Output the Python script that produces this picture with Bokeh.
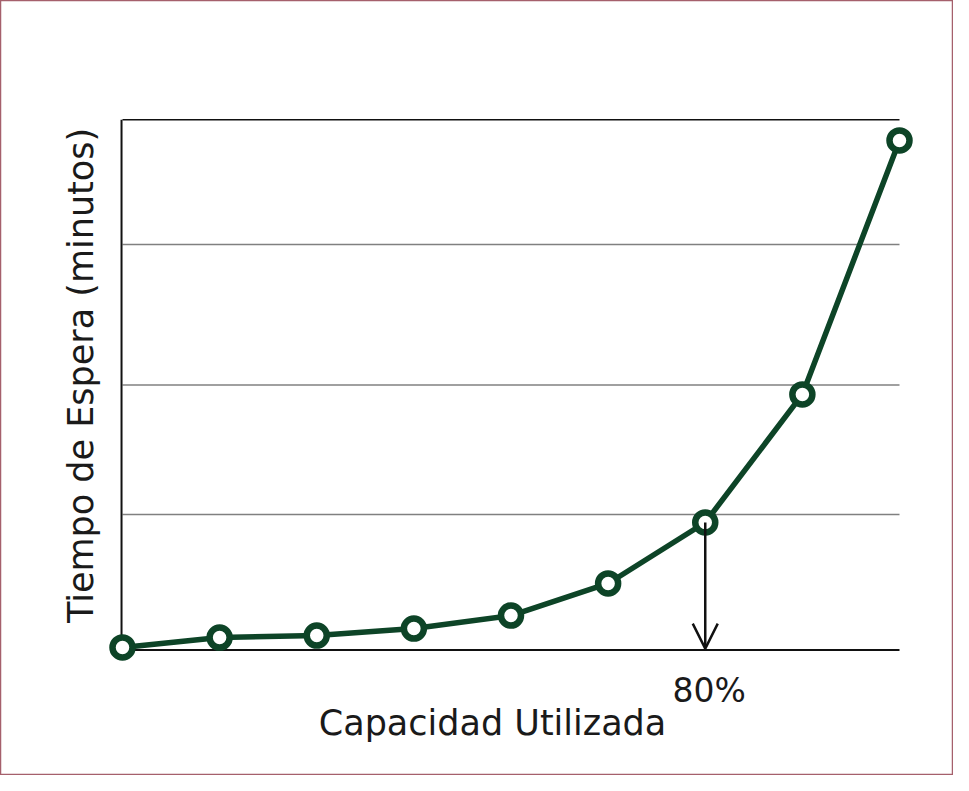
import numpy as np
from bokeh.plotting import figure
from bokeh.models import Label, Arrow, OpenHead, Range1d
from bokeh.embed import file_html
from bokeh.resources import INLINE

# ---- data ----
capacidad = [20, 30, 40, 50, 60, 70, 80, 90, 100]          # % capacity used
tiempo = [0.19, 0.94, 1.09, 1.62, 2.60, 5.02, 9.62, 19.28, 38.44]  # waiting time (min)
y_grid = [10.22, 19.99, 30.59]
y_top = 40.0
x_min, x_max = 20, 100
marca = 80
marca_label = "80%"
x_title = "Capacidad Utilizada"
y_title = "Tiempo de Espera (minutos)"

GREEN = "#0d4427"
FONT = "DejaVu Sans"
TXT = "#1a1a1a"

W, H = 953, 775
p = figure(width=W, height=H, output_backend="svg", toolbar_location=None,
           x_range=Range1d(7.439, 105.56), y_range=Range1d(-9.468, 49.0),
           min_border=0, min_border_left=0, min_border_right=0,
           min_border_top=0, min_border_bottom=0)
p.xaxis.visible = False
p.yaxis.visible = False
p.xgrid.visible = False
p.ygrid.visible = False
p.background_fill_color = "white"
p.border_fill_color = "white"
p.outline_line_color = "#a5606c"
p.outline_line_width = 1.5

# gridlines limited to plot extent
n = len(y_grid)
p.segment(x0=[x_min] * n, y0=y_grid, x1=[x_max] * n, y1=y_grid,
          line_color="#808080", line_width=1.5)

# frame lines: top, left, bottom
p.segment(x0=[x_min], y0=[y_top], x1=[x_max], y1=[y_top], line_color="#111111", line_width=1.6)
p.segment(x0=[x_min - 0.1], y0=[0], x1=[x_min - 0.1], y1=[y_top], line_color="#111111", line_width=2)
p.segment(x0=[x_min], y0=[0], x1=[x_max], y1=[0], line_color="#111111", line_width=2)

# data line + markers
p.line(capacidad, tiempo, line_color=GREEN, line_width=5.5)
p.scatter(capacidad, tiempo, marker="circle", size=20, fill_color="white",
          line_color=GREEN, line_width=6.5)

# arrow at 80%
i80 = capacidad.index(marca)
p.add_layout(Arrow(end=OpenHead(size=25, line_width=2.5, line_color="#111111"),
                   x_start=marca, y_start=tiempo[i80], x_end=marca, y_end=0.1,
                   line_width=2.5, line_color="#111111"))

p.add_layout(Label(x=marca, y=0, x_offset=4, y_offset=-40.5, text=marca_label,
                   text_font=FONT, text_font_size="33px", text_color=TXT,
                   text_align="center", text_baseline="alphabetic"))

p.add_layout(Label(x=492, y=53, x_units="screen", y_units="screen", text=x_title,
                   text_font=FONT, text_font_size="35px", text_color=TXT,
                   text_align="center", text_baseline="alphabetic"))

p.add_layout(Label(x=80, y=400, x_units="screen", y_units="screen", text=y_title,
                   angle=np.pi / 2, text_font=FONT, text_font_size="35px",
                   text_color=TXT, text_align="center", text_baseline="alphabetic"))

open("out.html", "w").write(file_html(p, INLINE))
